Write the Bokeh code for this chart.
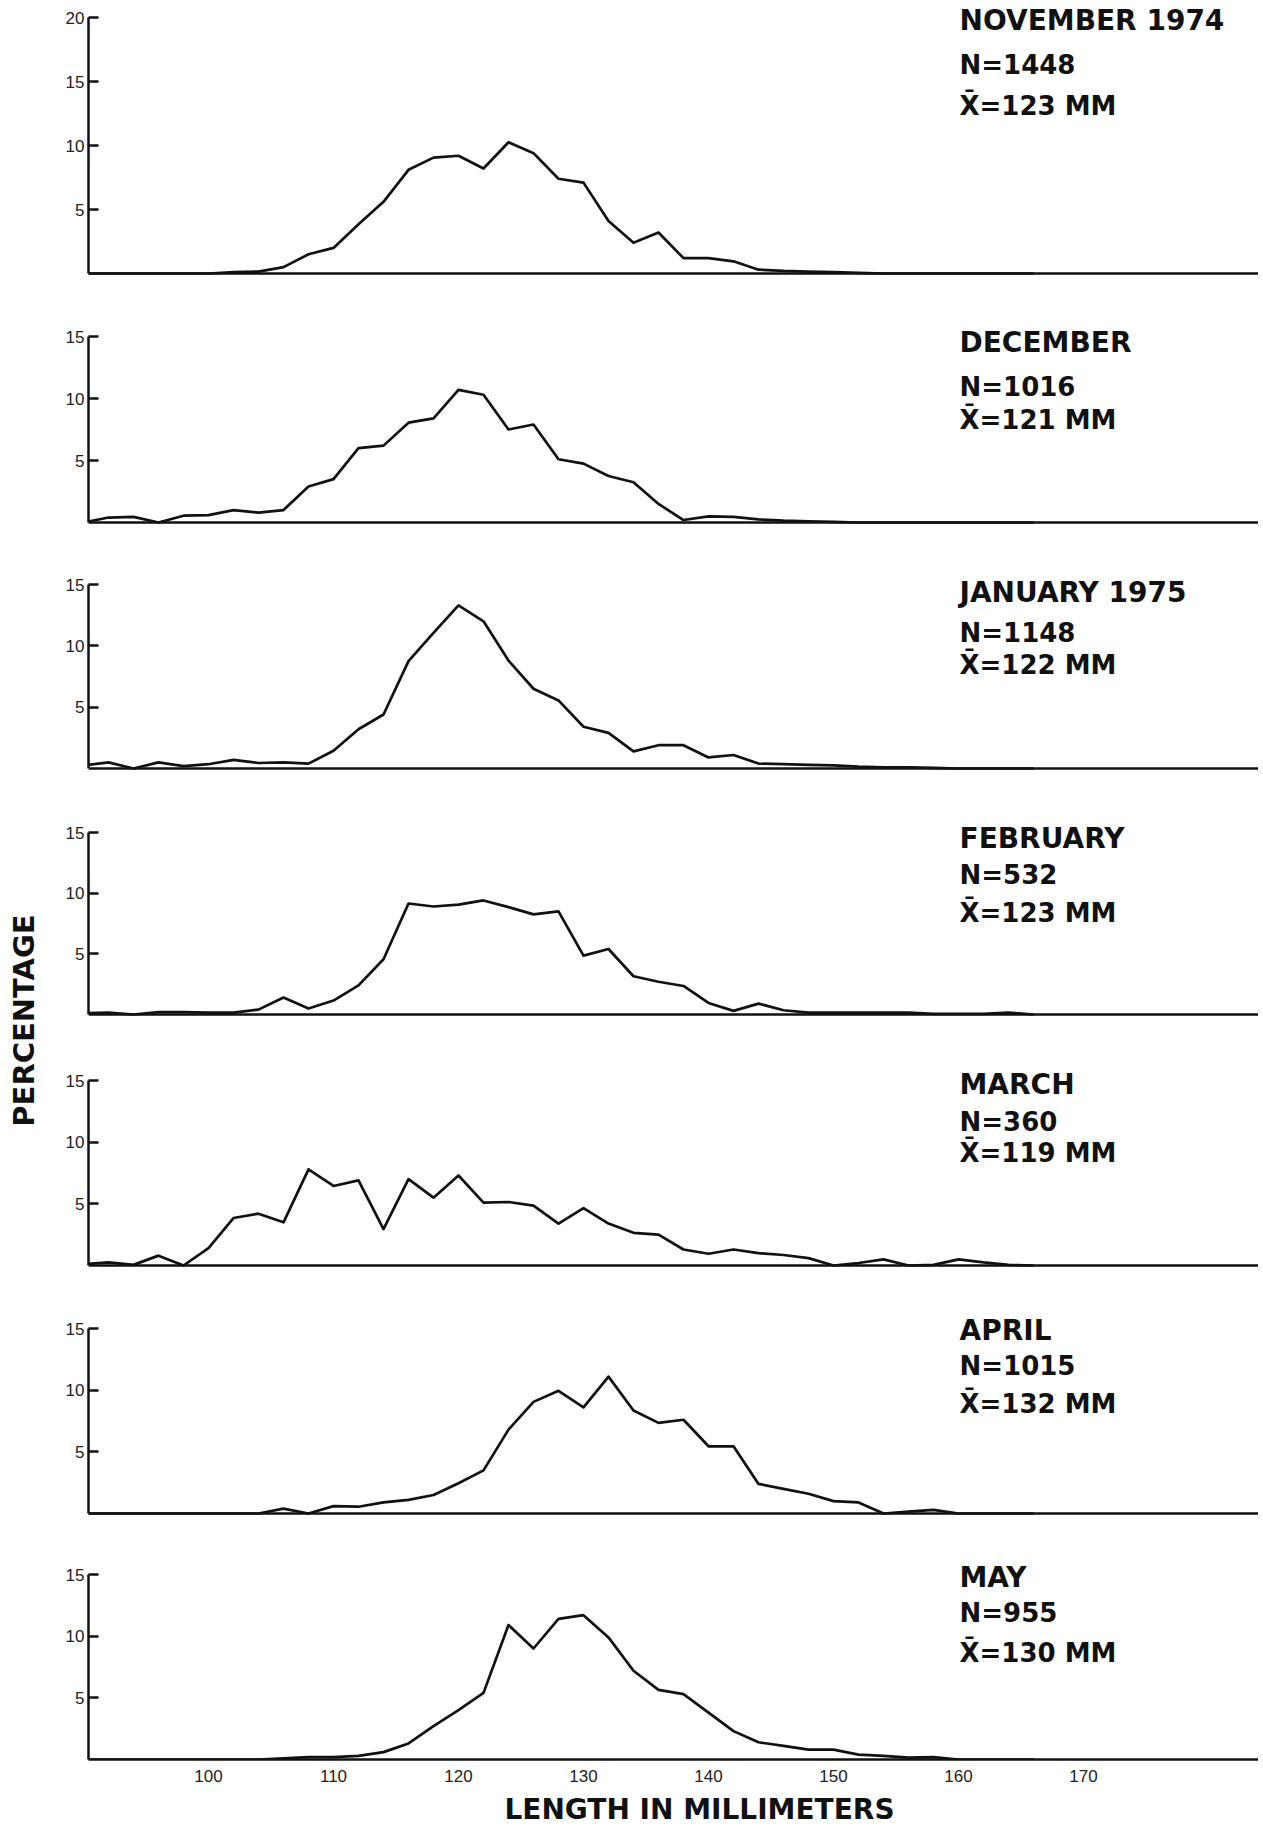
from bokeh.plotting import figure
from bokeh.models import Range1d, FixedTicker, Label, Span
from bokeh.layouts import column, row
from bokeh.embed import file_html
from bokeh.resources import INLINE

# ---------------- data ----------------
length_mm = [90, 92, 94, 96, 98, 100, 102, 104, 106, 108, 110, 112, 114, 116,
             118, 120, 122, 124, 126, 128, 130, 132, 134, 136, 138, 140, 142,
             144, 146, 148, 150, 152, 154, 156, 158, 160, 162, 164, 166]

nov_pct = [0, 0, 0, 0, 0, 0, 0.1, 0.15, 0.5, 1.5, 2.0, 3.85, 5.6, 8.1, 9.05,
           9.2, 8.2, 10.25, 9.4, 7.4, 7.1, 4.1, 2.4, 3.2, 1.2, 1.2, 0.95, 0.3,
           0.2, 0.15, 0.1, 0.05, 0, 0, 0, 0, 0, 0, 0]
dec_pct = [0, 0.4, 0.45, 0, 0.55, 0.6, 1.0, 0.8, 1.0, 2.9, 3.5, 6.0, 6.2, 8.05,
           8.4, 10.7, 10.3, 7.5, 7.9, 5.1, 4.75, 3.75, 3.25, 1.5, 0.2, 0.5,
           0.45, 0.25, 0.15, 0.1, 0.05, 0, 0, 0, 0, 0, 0, 0, 0]
jan_pct = [0.25, 0.5, 0, 0.5, 0.2, 0.35, 0.7, 0.45, 0.5, 0.4, 1.45, 3.2, 4.4,
           8.75, 11.05, 13.3, 12.0, 8.8, 6.5, 5.55, 3.4, 2.9, 1.4, 1.9, 1.9,
           0.9, 1.1, 0.4, 0.35, 0.3, 0.25, 0.15, 0.1, 0.1, 0.05, 0, 0, 0, 0]
feb_pct = [0.1, 0.15, 0, 0.2, 0.2, 0.15, 0.15, 0.4, 1.4, 0.5, 1.15, 2.4, 4.55,
           9.15, 8.9, 9.05, 9.4, 8.85, 8.25, 8.5, 4.85, 5.4, 3.15, 2.7, 2.35,
           0.95, 0.3, 0.9, 0.35, 0.15, 0.15, 0.15, 0.15, 0.15, 0.05, 0.05,
           0.05, 0.15, 0]
mar_pct = [0.1, 0.25, 0.05, 0.8, 0, 1.4, 3.85, 4.2, 3.5, 7.8, 6.45, 6.9, 2.95,
           7.0, 5.5, 7.3, 5.1, 5.15, 4.85, 3.4, 4.65, 3.4, 2.65, 2.5, 1.3,
           0.95, 1.3, 1.0, 0.85, 0.6, 0, 0.2, 0.5, 0, 0.05, 0.5, 0.25, 0.05, 0]
apr_pct = [0, 0, 0, 0, 0, 0, 0, 0, 0.4, 0, 0.6, 0.55, 0.9, 1.1, 1.5, 2.45, 3.5,
           6.8, 9.05, 9.95, 8.6, 11.1, 8.35, 7.35, 7.6, 5.45, 5.45, 2.4, 2.0,
           1.6, 1.0, 0.9, 0, 0.15, 0.3, 0, 0, 0, 0]
may_pct = [0, 0, 0, 0, 0, 0, 0, 0, 0.1, 0.2, 0.2, 0.3, 0.6, 1.3, 2.7, 4.0, 5.4,
           10.9, 9.0, 11.4, 11.7, 9.9, 7.2, 5.65, 5.3, 3.8, 2.3, 1.4, 1.1, 0.8,
           0.8, 0.4, 0.3, 0.15, 0.2, 0, 0, 0, 0]

months = ["NOVEMBER 1974", "DECEMBER", "JANUARY 1975", "FEBRUARY", "MARCH",
          "APRIL", "MAY"]
n_labels = ["N=1448", "N=1016", "N=1148", "N=532", "N=360", "N=1015", "N=955"]
mean_labels = ["X\u0304=123 MM", "X\u0304=121 MM", "X\u0304=122 MM",
               "X\u0304=123 MM", "X\u0304=119 MM", "X\u0304=132 MM",
               "X\u0304=130 MM"]
y_max = [20, 15, 15, 15, 15, 15, 15]
y_ticks = [[5, 10, 15, 20], [5, 10, 15], [5, 10, 15], [5, 10, 15],
           [5, 10, 15], [5, 10, 15], [5, 10, 15]]
x_ticks = [100, 110, 120, 130, 140, 150, 160, 170]
x_title = "LENGTH IN MILLIMETERS"
y_title = "PERCENTAGE"

series = [nov_pct, dec_pct, jan_pct, feb_pct, mar_pct, apr_pct, may_pct]

# ---------------- layout / style (pixels) ----------------
PAGE_H = 1832
LEFT_W = 58          # strip holding the vertical title
AXIS_BORDER = 30     # room for the y tick labels
FRAME_W = 1170
plot_h = [256, 186, 184, 182, 185, 185, 185]    # 0 .. top tick
pad_top = [17, 59, 58, 60, 62, 59, 57]          # space above the top tick
pad_bottom = [4, 4, 4, 4, 4, 4, 0]              # space below the baseline
XAXIS_BORDER = 32
X_TITLE_Y = 1809
# label vertical positions (px above the baseline)
txt_y = [(253, 209, 168), (180, 136, 103), (176, 136, 104), (176, 140, 102),
         (181, 144, 113), (183, 148, 110), (182, 147, 107)]
TXT_X = 871
INK = "#111111"
BOLD_FONT = "DejaVu Sans"
TICK_FONT = "Liberation Sans"

panels = []
n_panels = len(series)
for i, vals in enumerate(series):
    last = i == n_panels - 1
    scale = plot_h[i] / y_max[i]
    fh = pad_top[i] + plot_h[i] + pad_bottom[i]
    p = figure(frame_width=FRAME_W, frame_height=fh,
               min_border_left=AXIS_BORDER, min_border_right=0,
               min_border_top=0,
               min_border_bottom=XAXIS_BORDER if last else 0,
               x_range=Range1d(90.4, 184),
               y_range=Range1d(-pad_bottom[i] / scale,
                               y_max[i] + pad_top[i] / scale),
               output_backend="svg", toolbar_location=None,
               outline_line_color=None, background_fill_color="white",
               border_fill_color="white")
    p.grid.visible = False

    ya = p.yaxis[0]
    ya.bounds = (0, y_max[i])
    ya.ticker = FixedTicker(ticks=y_ticks[i])
    ya.major_tick_in = 10
    ya.major_tick_out = 0
    ya.minor_tick_line_color = None
    ya.axis_line_width = 2.5
    ya.axis_line_color = INK
    ya.major_tick_line_width = 2.5
    ya.major_tick_line_color = INK
    ya.major_label_text_font = TICK_FONT
    ya.major_label_text_font_size = "17px"
    ya.major_label_text_color = "#222222"
    ya.major_label_standoff = 4

    xa = p.xaxis[0]
    if not last:
        xa.visible = False
        p.add_layout(Span(location=0, dimension="width", line_color=INK,
                          line_width=2.5))
    else:
        xa.ticker = FixedTicker(ticks=x_ticks)
        xa.major_tick_in = 0
        xa.major_tick_out = 0
        xa.minor_tick_line_color = None
        xa.axis_line_width = 2.5
        xa.axis_line_color = INK
        xa.major_label_text_font = TICK_FONT
        xa.major_label_text_font_size = "17px"
        xa.major_label_text_color = "#222222"
        xa.major_label_standoff = 10

    p.line(length_mm, vals, line_width=2.7, line_color=INK,
           line_join="round")

    ty = txt_y[i]
    for text, yy, size in ((months[i], ty[0], "28px"),
                           (n_labels[i], ty[1], "26px"),
                           (mean_labels[i], ty[2], "26px")):
        p.add_layout(Label(x=TXT_X, y=yy + pad_bottom[i], x_units="screen",
                           y_units="screen", text=text, text_align="left",
                           text_baseline="middle", text_font=BOLD_FONT,
                           text_font_style="bold", text_font_size=size,
                           text_color=INK))
    panels.append(p)

used_h = sum(pad_top) + sum(plot_h) + sum(pad_bottom) + XAXIS_BORDER
title_h = PAGE_H - used_h
title_fig = figure(frame_width=AXIS_BORDER + FRAME_W, frame_height=title_h,
                   min_border=0, x_range=Range1d(0, 1), y_range=Range1d(0, 1),
                   output_backend="svg", toolbar_location=None,
                   outline_line_color=None)
title_fig.axis.visible = False
title_fig.grid.visible = False
title_fig.add_layout(Label(x=669 - LEFT_W, y=title_h - (X_TITLE_Y - used_h),
                           x_units="screen", y_units="screen", text=x_title,
                           text_align="center", text_baseline="middle",
                           text_font=BOLD_FONT, text_font_style="bold",
                           text_font_size="28px", text_color=INK))

side = figure(frame_width=LEFT_W, frame_height=PAGE_H, min_border=0,
              x_range=Range1d(0, 1), y_range=Range1d(0, 1),
              output_backend="svg", toolbar_location=None,
              outline_line_color=None)
side.axis.visible = False
side.grid.visible = False
side.add_layout(Label(x=23, y=PAGE_H - 1020, x_units="screen",
                      y_units="screen", text=y_title, angle=90,
                      angle_units="deg", text_align="center",
                      text_baseline="middle", text_font=BOLD_FONT,
                      text_font_style="bold", text_font_size="29px",
                      text_color=INK))

layout = row(side, column(*panels, title_fig, spacing=0), spacing=0)
open("out.html", "w").write(file_html(layout, INLINE))
